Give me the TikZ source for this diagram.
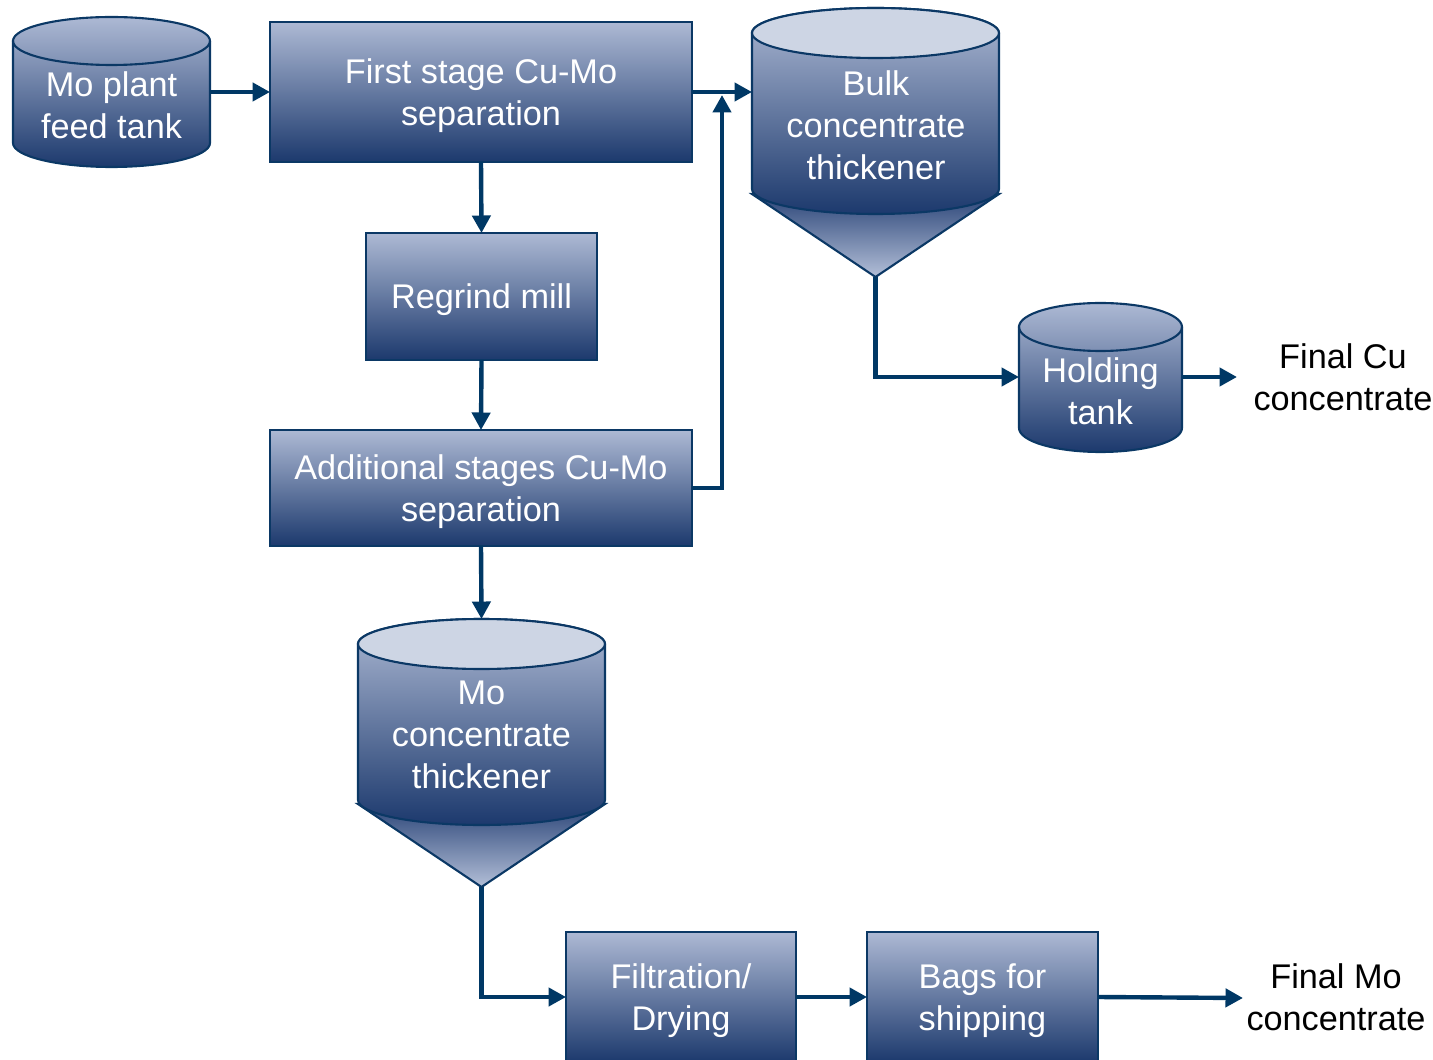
\documentclass[tikz,border=0pt]{standalone}
\usepackage{fontspec}
\setmainfont{Liberation Sans}
\usetikzlibrary{arrows.meta}
\definecolor{shlight}{HTML}{ADB9D4}
\definecolor{shdark}{HTML}{1C396D}
\definecolor{conetop}{HTML}{2A4477}
\definecolor{conebot}{HTML}{B3BFD8}
\definecolor{lidc}{HTML}{CDD5E4}
\definecolor{navy}{HTML}{0B3865}
\definecolor{flowc}{HTML}{003865}
\newcommand\lblfont{\fontsize{19.5}{23.8}\selectfont}
\tikzset{
  outl/.style={draw=navy, line width=1.2pt},
  grad/.style={top color=shlight, bottom color=shdark},
  procbox/.style={outl, grad, text=white, align=center, inner sep=0pt, outer sep=0pt, font=\lblfont, text depth=-0.055cm},
  tx/.style={text=white, align=center, inner sep=0pt, font=\lblfont},
  outtx/.style={text=black, align=center, inner sep=0pt, font=\lblfont},
  flow/.style={draw=flowc, line width=0.088cm, -{Triangle[length=0.35cm,width=0.36cm]}},
  ghost/.style={inner sep=0pt, outer sep=0pt},
}
% cx, rx, ytop, ybottom, ry
\newcommand\tankbody[5]{%
  \path[outl,grad] (#1-#2,#3) -- (#1-#2,#4)
     arc[start angle=180,end angle=0,x radius=#2,y radius=#5]
     -- (#1+#2,#3)
     arc[start angle=0,end angle=-180,x radius=#2,y radius=#5] -- cycle;}
\begin{document}
\begin{tikzpicture}[x=0.02cm,y=-0.02cm]
\useasboundingbox (0,0) rectangle (1433,1060);
\clip (0,0) rectangle (1433,1060);

% Mo plant feed tank
\tankbody{111.5}{98.5}{41}{143}{24}
\draw[outl] (13,41) arc[start angle=180,end angle=0,x radius=98.5,y radius=24];
\node[ghost, minimum width=3.94cm, minimum height=3.0cm] (feed) at (111.5,92) {};
\node[tx] (feedtxt) at (111.5,105) {Mo plant\\feed tank};

% Process boxes
\node[procbox, minimum width=8.44cm, minimum height=2.8cm] (first) at (481,92) {First stage Cu-Mo\\separation};
\node[procbox, minimum width=4.62cm, minimum height=2.54cm] (regrind) at (481.5,296.5) {Regrind mill};
\node[procbox, minimum width=8.44cm, minimum height=2.32cm] (addl) at (481,488) {Additional stages Cu-Mo\\separation};
\node[procbox, minimum width=4.6cm, minimum height=2.6cm] (filt) at (681,997) {Filtration/\\Drying};
\node[procbox, minimum width=4.62cm, minimum height=2.6cm] (bags) at (982.5,997) {Bags for\\shipping};

% Bulk concentrate thickener
\path[outl, top color=conetop, bottom color=conebot] (752,194) -- (999,194) -- (875.5,277) -- cycle;
\tankbody{875.5}{123.5}{33}{189}{25}
\draw[outl, fill=lidc] (875.5,33) ellipse[x radius=123.5, y radius=25];
\node[ghost, minimum width=4.94cm, minimum height=5.38cm] (bulk) at (875.5,142.5) {};
\node[tx] (bulktxt) at (876,125) {Bulk\\concentrate\\thickener};

% Holding tank
\tankbody{1100.5}{81.5}{327}{428}{24}
\draw[outl] (1019,327) arc[start angle=180,end angle=0,x radius=81.5,y radius=24];
\node[ghost, minimum width=3.26cm, minimum height=2.98cm] (hold) at (1100.5,377) {};
\node[tx] (holdtxt) at (1100.5,391) {Holding\\tank};

% Mo concentrate thickener
\path[outl, top color=conetop, bottom color=conebot] (358,804) -- (605,804) -- (481.5,887) -- cycle;
\tankbody{481.5}{123.5}{644}{800}{25}
\draw[outl, fill=lidc] (481.5,644) ellipse[x radius=123.5, y radius=25];
\node[ghost, minimum width=4.94cm, minimum height=5.36cm] (moth) at (481.5,753) {};
\node[tx] (mothtxt) at (481.5,735) {Mo\\concentrate\\thickener};

% Output labels
\node[outtx] (finalcu) at (1343,377) {Final Cu\\concentrate};
\node[outtx] (finalmo) at (1336,997.5) {Final Mo\\concentrate};

% Named free ends
\coordinate (bulkW) at (752,92);
\coordinate (merge) at (722,95);
\coordinate (cuend) at (1237,377);
\coordinate (moend) at (1243,998);

% Connectors
\draw[flow] (feed.east) -- (first.west);
\draw[flow] (first.east) -- (bulkW);
\draw[flow] (first.south) -- (regrind.north);
\draw[flow] (regrind.south) -- (addl.north);
\draw[flow] (addl.east) -| (merge);
\draw[flow] (addl.south) -- (moth.north);
\draw[flow] (bulk.south) |- (hold.west);
\draw[flow] (hold.east) -- (cuend);
\draw[flow] (moth.south) |- (filt.west);
\draw[flow] (filt.east) -- (bags.west);
\draw[flow] (bags.east) -- (moend);
\end{tikzpicture}
\end{document}
